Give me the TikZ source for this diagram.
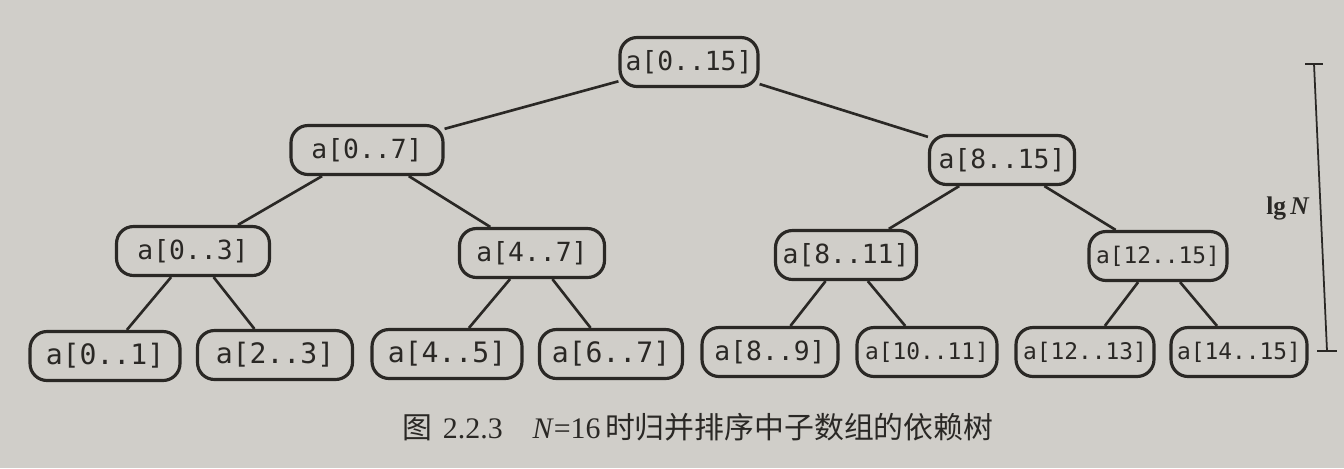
\documentclass[tikz,border=0pt]{standalone}
\usepackage{fontspec}
\setmainfont{Liberation Serif}
\setmonofont{DejaVu Sans Mono}
\newfontfamily\cjk{Noto Sans CJK SC}
\definecolor{ink}{RGB}{42, 40, 37}
\definecolor{paper}{RGB}{208, 206, 201}

\begin{document}
\begin{tikzpicture}[x=0.02cm, y=-0.02cm,
  sub/.style={draw=ink, line width=1.8pt, rounded corners=0.34cm, minimum height=0.98cm, minimum width=2.9cm, inner xsep=2pt, text=ink, font=\fontsize{15}{18}\selectfont\ttfamily},
  wide/.style={font=\fontsize{13}{16}\selectfont\ttfamily, minimum width=2.76cm},
  link/.style={draw=ink, line width=1.5pt}]

% Page
\useasboundingbox (0,0) rectangle (1344,468);
\fill[paper] (0,0) rectangle (1344,468);

% Root and first level
\node[sub, minimum width=2.76cm] (a015) at (689,62) {a[0..15]};
\node[sub, minimum width=3.04cm] (a07) at (367,150) {a[0..7]};
\node[sub] (a815) at (1002,160) {a[8..15]};

% Second level
\node[sub, minimum width=3.06cm] (a03) at (193,251) {a[0..3]};
\node[sub] (a47) at (532,253) {a[4..7]};
\node[sub, minimum width=2.82cm] (a811) at (846,255) {a[8..11]};
\node[sub, wide] (a1215) at (1158,256) {a[12..15]};

% Leaves
\node[sub, minimum width=3cm, font=\fontsize{16}{19}\selectfont\ttfamily] (a01) at (105,356) {a[0..1]};
\node[sub, minimum width=3.1cm, font=\fontsize{16}{19}\selectfont\ttfamily] (a23) at (275,355) {a[2..3]};
\node[sub, minimum width=3cm, font=\fontsize{16}{19}\selectfont\ttfamily] (a45) at (447,354) {a[4..5]};
\node[sub, minimum width=2.86cm, font=\fontsize{16}{19}\selectfont\ttfamily] (a67) at (611,354) {a[6..7]};
\node[sub, minimum width=2.72cm] (a89) at (770,352) {a[8..9]};
\node[sub, wide, minimum width=2.8cm] (a1011) at (927,352) {a[10..11]};
\node[sub, wide] (a1213) at (1085,352) {a[12..13]};
\node[sub, wide, minimum width=2.72cm] (a1415) at (1239,352) {a[14..15]};

% Tree edges
\draw[link] (a015) -- (a07);
\draw[link] (a015) -- (a815);
\draw[link] (a07) -- (a03);
\draw[link] (a07) -- (a47);
\draw[link] (a815) -- (a811);
\draw[link] (a815) -- (a1215);
\draw[link] (a03) -- (a01);
\draw[link] (a03) -- (a23);
\draw[link] (a47) -- (a45);
\draw[link] (a47) -- (a67);
\draw[link] (a811) -- (a89);
\draw[link] (a811) -- (a1011);
\draw[link] (a1215) -- (a1213);
\draw[link] (a1215) -- (a1415);

% Height marker
\coordinate (hTop) at (1314,64);
\coordinate (hBot) at (1327,351);
\draw[ink, line width=1pt] (hTop) -- (hBot);
\draw[ink, line width=1pt] ([xshift=-0.18cm]hTop) -- ([xshift=0.18cm]hTop);
\draw[ink, line width=1pt] ([xshift=-0.2cm]hBot) -- ([xshift=0.2cm]hBot);
\node[text=ink, font=\fontsize{14.5}{17}\selectfont] (lgN) at (1288,208) {\textbf{lg}\,\textbf{\textit{N}}};

% Caption
\node[text=ink, font=\fontsize{17}{20}\selectfont] (cap) at (698,427) {{\cjk 图}\hspace{0.35em}2.2.3\quad\textit{N}=16\hspace{0.15em}{\cjk 时归并排序中子数组的依赖树}};

\end{tikzpicture}
\end{document}
